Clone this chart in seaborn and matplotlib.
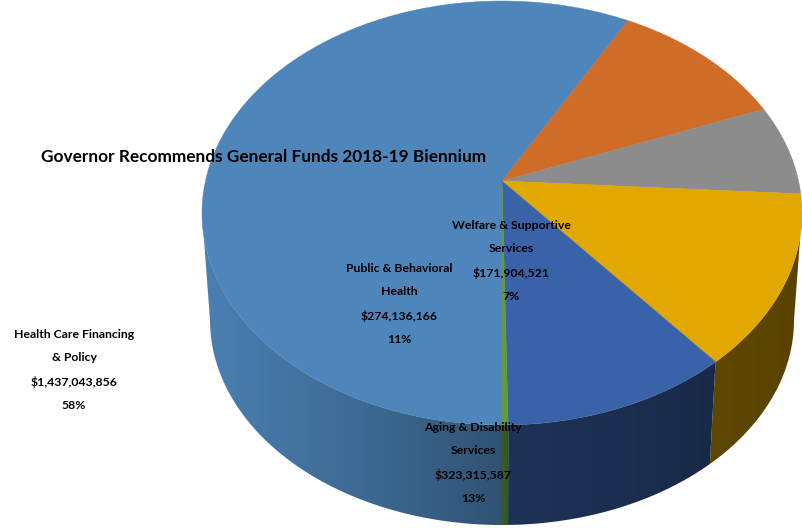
import numpy as np
import matplotlib
matplotlib.use("Agg")
import matplotlib.pyplot as plt
from matplotlib.patches import Polygon
import seaborn as sns

sns.set_style("white")
plt.rcParams['font.family'] = ['Lato', 'DejaVu Sans']

# clockwise from the bottom of the pie
categories = ["Health Care Financing & Policy", "Public & Behavioral Health",
              "Welfare & Supportive Services", "Aging & Disability Services",
              "Other programs", "Small program"]
values = [1437043856, 274136166, 171904521, 323315587, 265000000, 7000000]
colors = ["#4e86bb", "#cf6c28", "#8c8c8c", "#e0a800", "#3a62a9", "#659a3a"]
title = "Governor Recommends General Funds 2018-19 Biennium"
labels = [
    ("Health Care Financing\n& Policy\n$1,437,043,856\n58%", 74, 370),
    ("Public & Behavioral\nHealth\n$274,136,166\n11%", 399, 304),
    ("Welfare & Supportive\nServices\n$171,904,521\n7%", 511, 261),
    ("Aging & Disability\nServices\n$323,315,587\n13%", 473, 463),
]

TOP = (502, 213, 300, 212)
BOTTOM = (502, 320, 292, 205)
TILT = 0.151


def project(theta, ell):
    cx, cy, rx, ry = ell
    u, v = np.cos(theta), np.sin(theta)
    d = 1 + TILT * v
    return (cx + rx * u * np.sqrt(1 - TILT**2) / d,
            cy - ry * (v + TILT) / d)


def shade(x):
    return np.interp(x, [205, 350, 500, 510, 718, 800], [0.95, 0.80, 0.62, 0.52, 0.42, 0.40])


fig, ax = plt.subplots(figsize=(8.02, 5.28), dpi=100)
fig.subplots_adjust(0, 0, 1, 1)

palette = sns.color_palette(colors)
fracs = np.array(values, dtype=float) / sum(values)
edges = -np.pi / 2 - 2 * np.pi * np.concatenate([[0], np.cumsum(fracs)])

# side wall: horizontal gradient clipped to the visible front part of each slice
front_lo, front_hi = -np.pi + np.arcsin(TILT), -np.arcsin(TILT)
grad_x = np.arange(0, 802)
for i, rgb in enumerate(palette):
    hi = edges[i]
    lo = edges[i + 1]
    for shift in (0, 2 * np.pi):
        a, b = max(lo + shift, front_lo), min(hi + shift, front_hi)
        if b <= a:
            continue
        ts = np.linspace(a, b, 200)
        xt, yt = project(ts, TOP)
        xb, yb = project(ts, BOTTOM)
        poly = Polygon(np.c_[np.r_[xt, xb[::-1]], np.r_[yt, yb[::-1]]], closed=True,
                       facecolor="none", edgecolor="none", transform=ax.transData)
        ax.add_patch(poly)
        img = np.outer(shade(grad_x + 0.5), np.array(rgb))[None, :, :]
        im = ax.imshow(img, extent=(0, 802, 528, 0), aspect="auto", zorder=1,
                       interpolation="bilinear")
        im.set_clip_path(poly)

# top face
ax_apex = (TOP[0], TOP[1] - TOP[3] * TILT)
for i, rgb in enumerate(palette):
    ts = np.linspace(edges[i], edges[i + 1], 200)
    xs, ys = project(ts, TOP)
    ax.fill(np.r_[ax_apex[0], xs], np.r_[ax_apex[1], ys], color=rgb, lw=0.3, zorder=2)

ax.set_xlim(0, 802)
ax.set_ylim(528, 0)
ax.axis("off")

ax.text(264, 157, title, ha="center", va="center", fontsize=12.4, fontweight="bold",
        color="black", zorder=5)
for txt, x, y in labels:
    ax.text(x, y, txt, ha="center", va="center", fontsize=8.8, fontweight="bold",
            color="black", linespacing=2.35, zorder=5)

fig.savefig("out.png", dpi=100)
